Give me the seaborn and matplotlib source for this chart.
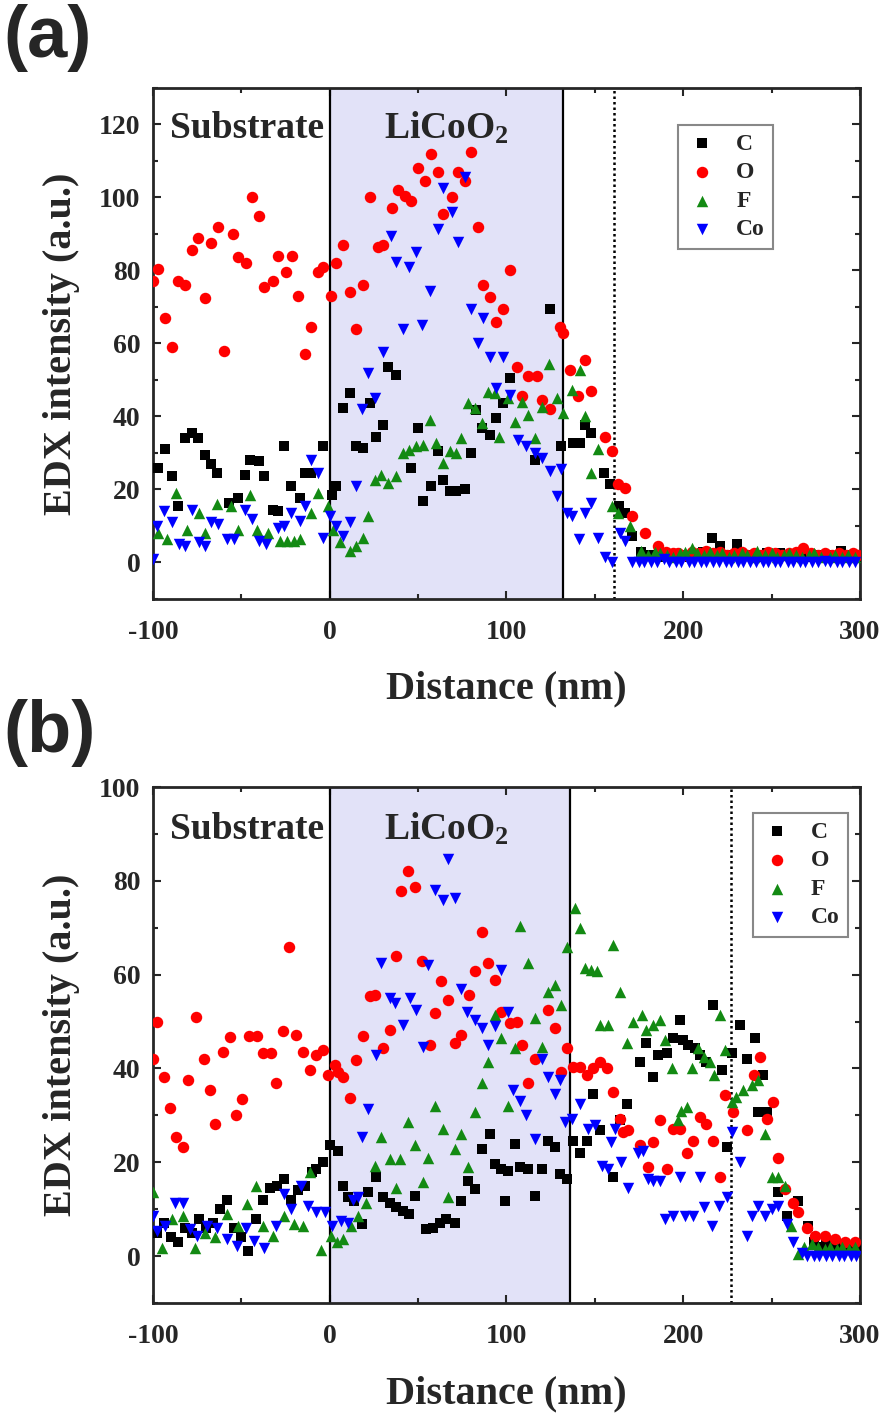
import matplotlib
matplotlib.use("Agg")
import matplotlib.pyplot as plt
from matplotlib.ticker import MultipleLocator
import seaborn as sns

# EDX line-scan intensities, panel (a)
a_c_x = [-97, -93, -89.5, -86, -82, -78, -74.5, -70.5, -67, -63.5,
         -57, -52, -48, -45, -40, -37, -32, -29, -25.7, -22,
         -17, -14, -10.5, -4, 1, 3.8, 7.5, 11.3, 15, 19,
         22.6, 26.4, 30, 33, 37.7, 46, 50, 53, 57.5, 61.3,
         64, 68, 71.7, 76.4, 80, 83, 86, 90.6, 94.3, 98,
         102, 116, 124.7, 131, 137.9, 141.6, 144.4, 148, 155, 158.6,
         163.4, 167, 171, 176, 180, 183, 187, 190, 194, 197,
         201, 204, 208, 211, 216, 221, 226, 230.5, 234, 239,
         243, 247.5, 251, 255, 258, 262, 266, 269, 273, 277,
         281, 285, 289, 292, 296, 299]
a_c_y = [26, 31, 23.6, 15.5, 34, 35.5, 34, 29.5, 27, 24.5,
         16.4, 17.7, 24, 28, 27.7, 23.6, 14.5, 14, 31.8, 21,
         17.7, 24.5, 24.5, 31.8, 18.6, 21, 42.3, 46.4, 32, 31.4,
         43.6, 34.5, 37.7, 53.6, 51.4, 26, 36.8, 16.8, 21, 30.5,
         22.7, 19.5, 19.5, 20, 30, 41.8, 36.8, 35, 39.5, 43.6,
         50.5, 28, 69.5, 31.8, 32.7, 32.7, 37.7, 35.5, 24.5, 21.4,
         15.5, 13.6, 7.3, 3, 2, 2, 1.5, 2, 1.5, 2,
         2, 1.5, 2, 3, 6.8, 4.5, 2, 5, 2, 2,
         1.5, 2.7, 2, 2.7, 2, 1.5, 2, 2, 1.5, 2,
         2, 1.5, 3.2, 2, 2, 1.5]

a_o_x = [-100, -97, -93, -89.5, -86, -82, -78, -74.5, -70.5, -67,
         -63, -59.6, -55, -52, -47.6, -44, -40, -37, -32, -29,
         -25, -21.5, -18, -14, -10.5, -6.7, -4, 0.5, 3.8, 7.5,
         11.3, 15, 19, 22.6, 27.4, 30, 35, 38.7, 42.5, 46,
         50, 54, 57.5, 61, 64, 69, 72.6, 76.4, 80, 83.6,
         86.8, 90.6, 94, 98, 102, 105.7, 109, 112, 117, 120,
         124.7, 130, 132, 135.9, 140.6, 144.4, 148, 155.7, 159.5, 163,
         167, 171, 178.6, 186, 190, 194, 197, 201, 205, 209,
         213, 217, 221, 225, 229, 233, 236, 240, 244, 248,
         252, 256, 260, 264, 268, 272, 276, 280, 284, 288,
         292, 296, 299]
a_o_y = [77, 80.5, 67, 59, 77, 76, 85.5, 89, 72.5, 87.5,
         92, 58, 90, 83.6, 82, 100, 95, 75.5, 77, 84,
         79.5, 84, 73, 57, 64.5, 79.5, 81, 73, 82, 87,
         74, 64, 76, 100, 86.5, 87, 97, 102, 100.5, 99,
         108, 104.5, 112, 107, 95.5, 100, 107, 104.5, 112.5, 92,
         76, 72.7, 66, 69.5, 80, 53.6, 45.5, 51, 51, 44.5,
         42, 64.5, 63, 52.7, 45.5, 55.5, 47, 34.5, 30.5, 21.4,
         20.5, 12.7, 8.2, 4.5, 3, 2.5, 2.7, 2, 3, 2.5,
         3.2, 2.5, 3, 2, 2.5, 3, 2, 2.5, 2, 3,
         2.5, 2, 2.5, 3, 4, 2.5, 2, 2.5, 2, 2.5,
         2, 2.5, 2]

a_f_x = [-97, -92, -87, -81, -74, -70.5, -64, -56, -52, -45,
         -41, -35, -28, -24, -20, -17, -10.5, -6.7, -1, 2,
         5.6, 11.3, 15, 19, 21.7, 25.5, 29.2, 33, 37.7, 41.5,
         45, 49, 52.8, 56.6, 60.4, 64, 68, 71.7, 74.5, 78.3,
         82, 86, 89.6, 93.4, 96, 101, 104.7, 108.5, 112.4, 116,
         120, 124, 128.5, 132, 137, 141.6, 144.4, 148, 152, 159.5,
         163, 170, 176, 180, 184, 187, 191, 194, 198, 201,
         205, 208, 212, 215, 219, 222, 226, 229, 233, 236,
         240, 242, 246, 250, 253, 257, 260, 264, 267, 271,
         274, 278, 283, 286, 290, 293, 297]
a_f_y = [8, 6.4, 19, 9, 13.6, 8, 16, 15.5, 9, 18.6,
         9, 8, 6, 6, 6, 6.4, 13.6, 19, 15.5, 9,
         5.5, 3.2, 4.5, 6.8, 12.7, 22.7, 24, 21.8, 23.6, 30,
         30.9, 31.8, 32.3, 39, 32.7, 27.3, 30.5, 30, 34, 43.6,
         42.3, 38.2, 46.8, 46.4, 34.5, 45, 38.6, 44, 40.5, 34,
         42.7, 54.5, 45, 41, 47.3, 52.7, 40, 24.5, 31, 15.5,
         13.6, 10, 3.2, 2, 3, 2.7, 2, 1.5, 2.5, 3,
         4, 2.5, 2, 3, 2, 2.5, 1.5, 2, 2.5, 2,
         1.5, 3.2, 2, 2.5, 1.5, 2, 2.5, 2, 1.5, 2,
         2.5, 1.5, 1.4, 2, 1.5, 2, 1.5]

a_co_x = [-100, -98, -94, -89.5, -85, -82, -78, -74, -70.5, -67,
          -63, -58, -54, -48, -44, -40, -36, -29.5, -26, -22,
          -17, -14, -10.5, -6.7, -4, 0, 3.8, 7.5, 11.3, 15,
          18, 21.7, 25.5, 30, 34.5, 37.7, 41.5, 45, 49, 52,
          56.6, 61.3, 64, 68.9, 72.6, 76.4, 80, 84, 86.8, 90.6,
          94.3, 98, 102, 106.6, 111, 116, 120, 124.7, 128.5, 131,
          134, 137, 141, 144.4, 148, 152, 155.7, 159.5, 164, 167,
          171, 175, 178, 182, 185, 189, 192, 196, 199, 203,
          206, 210, 213, 217, 220, 224, 227, 231, 234, 238,
          241, 245, 248, 252, 255, 259, 262, 266, 269, 273,
          276, 280, 283, 287, 290, 294, 297]
a_co_y = [1, 10, 14, 11, 5, 4.5, 14.5, 5.5, 4.5, 11,
          10.5, 6.4, 6.4, 14.5, 12, 6, 5, 9.5, 10, 13.6,
          11.4, 15.5, 28, 24.5, 6.8, 12.7, 10, 7.3, 11, 21,
          42, 51.8, 45, 57.7, 89.5, 82.3, 64, 81, 85, 65,
          74.5, 91.4, 102.7, 96, 87.7, 105.5, 69.5, 60, 67, 56.4,
          47.7, 56.4, 46, 33.6, 31.8, 30, 28.6, 25, 18.2, 25.5,
          13.6, 12.7, 6.4, 13.6, 16.4, 6.8, 1.4, 0, 8.2, 6,
          0, 0, 0, 0, 0, 1, 0, 0, 0, 0,
          0, 0, 0, 0, 0, 0, 0, 0, 0, 0,
          0, 0, 0, 0, 0, 0, 0, 0, 0, 0,
          0, 0.5, 0, 0, 0, 0, 0]

# panel (b)
b_c_x = [-98, -94, -90, -86, -82, -78, -74, -70, -66, -62,
         -58, -54, -50, -46, -42, -38, -34, -30, -26, -22,
         -18, -14, -10, -7.6, -3.8, 0, 4.7, 7.5, 10.4, 14,
         18, 21.7, 26.4, 30, 34, 37.7, 41.5, 45, 48, 54.7,
         58.5, 62.3, 66, 70.7, 74.5, 78, 82, 86, 90.6, 93.4,
         97, 99, 101, 104.7, 107.5, 112, 116, 120, 123.6, 127.5,
         130, 134, 137.7, 141.5, 145.3, 149, 152.8, 160.4, 164, 168,
         175.5, 179.2, 183, 186, 190.6, 194.3, 198, 200, 202.8, 206.6,
         209.4, 213, 217, 221.7, 224.5, 227.4, 232, 236, 240.6, 242.5,
         245, 247.2, 253.8, 258.5, 265, 270.8, 274, 278, 281, 285,
         288, 292, 295, 299]
b_c_y = [5, 7, 4, 3, 6, 5, 8, 6, 7, 10,
         12, 6, 4, 1, 8, 12, 14.6, 15, 16.4, 12,
         14, 15, 18, 18.6, 20, 23.6, 22.5, 15, 12.5, 11.8,
         6.8, 13.6, 16.8, 12.5, 11.4, 10.4, 9.6, 8.9, 12.9, 5.7,
         6, 7.1, 7.9, 7.1, 11.8, 16, 14.3, 22.9, 26, 19.6,
         18.6, 11.8, 18.2, 24, 18.9, 18.6, 12.9, 18.6, 24.6, 23.2,
         17.5, 16.4, 24.6, 22, 24.6, 34.6, 26.8, 16.8, 29, 32.5,
         41.4, 45.4, 38.2, 42.9, 43.2, 46.4, 50.4, 46, 45, 44.3,
         42.9, 41.4, 53.6, 39.6, 23.2, 43.2, 49.3, 42.1, 46.4, 30.7,
         38.6, 30.7, 13.6, 8.6, 11.8, 6.4, 3, 2, 2.5, 2,
         2, 1.5, 2, 1.5]

b_o_x = [-100, -98, -94, -90.5, -86.7, -83, -80, -75.6, -71.4, -68,
         -64.8, -60.4, -56.6, -53.3, -49.5, -45.7, -41, -38, -33, -30.5,
         -26.7, -23, -19, -15, -11.4, -7.6, -3.8, -1, 2.9, 4.7,
         7.5, 11.3, 15, 19, 22.6, 25.5, 30, 34, 37.7, 40.6,
         44.3, 48.5, 52, 56.6, 59.4, 63, 67, 70.7, 74.5, 79,
         82, 86, 89.6, 93.4, 97, 102, 105.7, 108.5, 112, 116,
         123.6, 127.5, 131, 134, 137.7, 141.5, 145.3, 149, 152.8, 156.6,
         160.4, 164, 166, 169, 175.5, 180, 183, 186.8, 190.6, 194.3,
         198, 202, 205.6, 209.4, 213, 216.8, 220.6, 223.6, 228, 236,
         240, 243.4, 247.2, 251, 253.8, 257.5, 262, 265, 270, 274.5,
         280, 286, 291.5, 297]
b_o_y = [42, 50, 38.2, 31.6, 25.4, 23.2, 37.5, 51, 42, 35.4,
         28.2, 43.6, 46.8, 30, 33.4, 47, 47, 43.2, 43.2, 37,
         47.9, 66, 47.1, 43.6, 39.6, 42.9, 43.9, 38.6, 40.7, 39.3,
         38.2, 33.6, 41.8, 47, 55.4, 55.7, 44.3, 48.2, 64, 77.9,
         82, 78.7, 62.9, 45, 51.8, 58.6, 54.6, 45.4, 47.1, 55.7,
         60.7, 69, 62.5, 58.9, 52, 49.6, 50, 45, 37, 42,
         52.5, 48.6, 39.3, 44.3, 40.4, 40.4, 38.6, 40, 41.4, 40,
         35, 29.3, 26.4, 26.8, 23.6, 19, 24.3, 29, 18.6, 27.1,
         27.1, 22, 24.6, 29.6, 28.2, 24.6, 16.8, 34.3, 30.7, 26.8,
         38.6, 42.5, 29.3, 32.9, 21, 14.3, 11.4, 9.3, 6, 4.3,
         4.3, 3.6, 2.9, 2.9]

b_f_x = [-100, -95, -89.5, -83, -76, -70.5, -65, -58, -52, -46.7,
         -42, -38, -32, -25.7, -20, -15, -11.4, -4.8, 0.5, 4,
         7.5, 12, 15.8, 20.5, 25.5, 29, 34, 37.7, 39.5, 44.3,
         48, 52.8, 55.6, 59.4, 64, 67, 70.7, 74.5, 78.3, 82,
         86, 89.6, 93.4, 97, 101, 104.7, 107.5, 112, 116, 120,
         123.6, 127.5, 131, 134, 138.7, 141.5, 144.3, 148, 151, 152.8,
         157.5, 160.4, 164, 168, 171.7, 176.4, 179, 183, 186.8, 189.6,
         193.4, 197, 199, 202, 204.7, 208.5, 212, 215, 217.5, 220.8,
         223.6, 227.4, 230, 234, 238.7, 242.5, 246, 250, 253.8, 257.5,
         261, 265, 268.5, 272.6, 276, 280, 283, 287, 290, 294,
         297]
b_f_y = [13.6, 1.8, 7.9, 8.6, 1.8, 5, 4, 9, 6.4, 11,
         15, 6.4, 4.3, 8.6, 6.8, 6.4, 17.9, 1.4, 4.3, 2.9,
         3.6, 6.4, 8.6, 11.4, 19.3, 25.4, 20.7, 14.6, 20.7, 28.6,
         23.6, 15.7, 21, 32, 27, 12.5, 22.9, 26, 19, 30.7,
         37, 41.4, 51.4, 46.4, 32, 44.3, 70.4, 62.5, 50.7, 44.6,
         56.4, 57.9, 53.6, 66, 74.3, 70, 61.4, 61, 60.7, 49.3,
         49.3, 66.4, 56.4, 45.4, 50, 51.4, 48.2, 49.3, 50.4, 46,
         40, 29, 31, 31.8, 40, 44.3, 42.5, 41.4, 38.6, 51.4,
         43.9, 32.9, 33.9, 35.4, 36.4, 37.5, 26, 16.8, 16.8, 15,
         6.4, 0.4, 2, 2.5, 2, 1.5, 2, 1.5, 2, 1.5,
         2]

b_co_x = [-100, -98, -93, -87.6, -83, -79, -75, -69.5, -64, -58,
          -52.4, -47.6, -43, -37, -30.5, -25.7, -22, -16, -12.4, -7.6,
          -2.9, 1, 6.6, 10.4, 13, 16, 18, 21.7, 26.4, 29,
          34, 36.8, 41.5, 45.3, 49, 52.8, 55.7, 59.4, 64, 67,
          70.7, 74.5, 77.4, 82, 86, 89.6, 93.4, 97, 101, 103.8,
          107.5, 111, 116, 120, 123.6, 127.5, 130, 133, 136.8, 141.5,
          146, 150, 153.8, 157.5, 159, 161.3, 165, 168.9, 174.5, 177.4,
          180, 183, 186.8, 189.6, 194.3, 198, 201, 205.7, 209.4, 212,
          216, 220, 224.5, 227.4, 232, 236, 239, 242.5, 246, 250,
          253.8, 258.5, 262.3, 267, 270, 274, 277, 281, 284, 288,
          291, 295, 298]
b_co_y = [8.6, 5.4, 6.4, 11.4, 11.4, 5.7, 4.3, 6.4, 6, 3.6,
          2.1, 6, 3.2, 1.8, 6.4, 13.2, 10, 15, 10.7, 9.3,
          9.3, 6.4, 7.5, 7, 12, 12.7, 25.4, 31.4, 42.9, 62.5,
          55, 54, 49.3, 55, 52.5, 44.6, 62, 78, 76, 84.6,
          76.4, 57, 52, 50.4, 48.6, 45, 49, 61, 52, 35.4,
          33, 30, 25, 42, 38.2, 34.6, 37.5, 28.5, 29.3, 32.5,
          27, 28, 19.3, 18.6, 24.3, 27, 20, 14.6, 22, 22.5,
          16.4, 16, 16, 7.9, 8.6, 16.8, 8.6, 8.6, 16.8, 10.4,
          6.4, 10.7, 12.5, 26.4, 20, 4.3, 8.6, 10.7, 8.6, 10,
          10.7, 6.8, 2.9, 0.7, 0, 0, 0, 0, 0, 0,
          0, 0, 0]

elements = ["C", "O", "F", "Co"]
markers = ["s", "o", "^", "v"]
colors = ["black", "#ff0000", "#138a13", "#0000ff"]
sizes = [48, 68, 68, 68]

sns.set_theme(style="ticks")
plt.rcParams["font.family"] = ["Liberation Serif", "DejaVu Serif"]
plt.rcParams["font.weight"] = "bold"
plt.rcParams["axes.unicode_minus"] = False
plt.rcParams["mathtext.fontset"] = "custom"
plt.rcParams["mathtext.rm"] = "Liberation Serif:bold"
plt.rcParams["mathtext.bf"] = "Liberation Serif:bold"
plt.rcParams["mathtext.it"] = "Liberation Serif:italic:bold"

fig = plt.figure(figsize=(8.91, 14.14), dpi=100)
ax_a = fig.add_axes([0.1717, 0.5764, 0.7935, 0.3614])
ax_b = fig.add_axes([0.1717, 0.0785, 0.7935, 0.3649])


def draw_panel(ax, series, film_end, dash_x, ylim, text_y, leg_anchor):
    # LiCoO2 layer shading and boundaries
    ax.axvspan(0, film_end, color="#e2e2f8", zorder=0, lw=0)
    ax.axvline(0, color="black", lw=1.6, zorder=1)
    ax.axvline(film_end, color="black", lw=1.6, zorder=1)
    ax.axvline(dash_x, color="black", lw=1.8, ls=(0, (1, 1.2)), zorder=1)

    for (xs, ys), name, m, c, s in zip(series, elements, markers, colors, sizes):
        sns.scatterplot(x=xs, y=ys, ax=ax, marker=m, color=c, s=s,
                        linewidth=0, label=name, zorder=3)

    ax.set_xlim(-100, 300)
    ax.set_ylim(*ylim)
    ax.xaxis.set_major_locator(MultipleLocator(100))
    ax.xaxis.set_minor_locator(MultipleLocator(50))
    ax.yaxis.set_major_locator(MultipleLocator(20))
    ax.yaxis.set_minor_locator(MultipleLocator(10))
    ax.tick_params(which="both", direction="in", top=True, right=True,
                   width=1.5, labelsize=20)
    ax.tick_params(axis="x", pad=15)
    ax.tick_params(axis="y", pad=9)
    ax.tick_params(which="major", length=6)
    ax.tick_params(which="minor", length=3.5)
    for sp in ax.spines.values():
        sp.set_linewidth(2)
    for lab in ax.get_xticklabels() + ax.get_yticklabels():
        lab.set_fontweight("bold")

    ax.set_xlabel("Distance (nm)", fontsize=29, fontweight="bold")
    ax.set_ylabel("EDX intensity (a.u.)", fontsize=29, fontweight="bold")
    ax.xaxis.set_label_coords(0.5, -0.14)
    ax.yaxis.set_label_coords(-0.103, 0.5)

    ax.text(-47, text_y, "Substrate", fontsize=27, fontweight="bold",
            ha="center", va="center", zorder=4)
    ax.text(66, text_y, r"LiCoO$_2$", fontsize=27, fontweight="bold",
            ha="center", va="center", zorder=4)

    leg = ax.legend(loc="upper left", bbox_to_anchor=leg_anchor, fontsize=17,
                    frameon=True, fancybox=False, framealpha=1,
                    handletextpad=0.8, labelspacing=0.3, borderpad=0.35,
                    handlelength=1.3, borderaxespad=0, markerscale=1.0)
    leg.get_frame().set_edgecolor("#888888")
    leg.get_frame().set_linewidth(1.5)
    for t in leg.get_texts():
        t.set_fontweight("bold")


draw_panel(ax_a,
           [(a_c_x, a_c_y), (a_o_x, a_o_y), (a_f_x, a_f_y), (a_co_x, a_co_y)],
           132, 161, (-10, 130), 119, (0.743, 0.928))
draw_panel(ax_b,
           [(b_c_x, b_c_y), (b_o_x, b_o_y), (b_f_x, b_f_y), (b_co_x, b_co_y)],
           136, 227, (-10, 100), 91, (0.849, 0.95))

fig.text(0.004, 0.997, "(a)", fontsize=52, fontweight="bold",
         family=["Liberation Sans", "DejaVu Sans"], ha="left", va="top")
fig.text(0.004, 0.506, "(b)", fontsize=52, fontweight="bold",
         family=["Liberation Sans", "DejaVu Sans"], ha="left", va="top")

fig.savefig("out.png", dpi=100)
